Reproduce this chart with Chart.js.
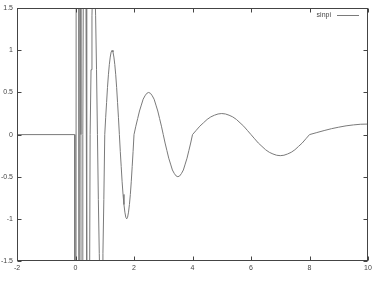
<!DOCTYPE html>
<html>
<head>
<meta charset="utf-8">
<script src="https://cdn.jsdelivr.net/npm/chart.js@4/dist/chart.umd.min.js"></script>
<style>
html,body{margin:0;padding:0;background:#fff;}
#wrap{width:377px;height:282px;}
</style>
</head>
<body>
<div id="wrap"><canvas id="c" width="377" height="282"></canvas></div>
<script>
// ---- data ----
const seriesLabel = 'sinpi';
const xValues = [
  -2, -0.03, -0.02, 0.06, 0.12,
  0.125, 0.1328, 0.15625, 0.1797, 0.1875, 0.1953, 0.21875, 0.2422, 0.25,
  0.265625, 0.28125, 0.3125, 0.34375, 0.359375, 0.375, 0.390625, 0.40625, 0.4375, 0.46875, 0.484375, 0.5,
  0.53125, 0.5625, 0.59375, 0.625, 0.65625, 0.6875, 0.71875, 0.75,
  0.78125, 0.8125, 0.84375, 0.875, 0.90625, 0.9375, 0.96875, 1,
  1.03125, 1.0625, 1.09375, 1.125, 1.15625, 1.1875, 1.21875, 1.25,
  1.28125, 1.3125, 1.34375, 1.375, 1.40625, 1.4375, 1.46875, 1.5,
  1.53125, 1.5625, 1.59375, 1.625, 1.65625, 1.6875, 1.71875, 1.75,
  1.78125, 1.8125, 1.84375, 1.875, 1.90625, 1.9375, 1.96875, 2,
  2.0625, 2.125, 2.1875, 2.25, 2.3125, 2.375, 2.4375, 2.5,
  2.5625, 2.625, 2.6875, 2.75, 2.8125, 2.875, 2.9375, 3,
  3.0625, 3.125, 3.1875, 3.25, 3.3125, 3.375, 3.4375, 3.5,
  3.5625, 3.625, 3.6875, 3.75, 3.8125, 3.875, 3.9375, 4,
  4.125, 4.25, 4.375, 4.5, 4.625, 4.75, 4.875, 5,
  5.125, 5.25, 5.375, 5.5, 5.625, 5.75, 5.875, 6,
  6.125, 6.25, 6.375, 6.5, 6.625, 6.75, 6.875, 7,
  7.125, 7.25, 7.375, 7.5, 7.625, 7.75, 7.875, 8,
  8.25, 8.5, 8.75, 9, 9.25, 9.5, 9.75, 10
];
const yValues = [
  0, 0, -40, 40, -7.7,
  0, 3.06, 8, 3.06, 0, -3.06, -8, -3.06, 0,
  1.53, 2.83, 4, 2.83, 1.53, 0, -1.53, -2.83, -4, -2.83, -1.53, 0,
  0.77, 1.41, 1.85, 2, 1.85, 1.41, 0.77, 0,
  -0.77, -1.41, -1.85, -2, -1.85, -1.41, -0.77, 0,
  0.2, 0.38, 0.56, 0.71, 0.83, 0.92, 0.98, 1,
  0.98, 0.92, 0.83, 0.71, 0.56, 0.38, 0.2, 0,
  -0.2, -0.38, -0.56, -0.71, -0.83, -0.92, -0.98, -1,
  -0.98, -0.92, -0.83, -0.71, -0.56, -0.38, -0.2, 0,
  0.1, 0.19, 0.28, 0.35, 0.42, 0.46, 0.49, 0.5,
  0.49, 0.46, 0.42, 0.35, 0.28, 0.19, 0.1, 0,
  -0.1, -0.19, -0.28, -0.35, -0.42, -0.46, -0.49, -0.5,
  -0.49, -0.46, -0.42, -0.35, -0.28, -0.19, -0.1, 0,
  0.05, 0.1, 0.14, 0.18, 0.21, 0.23, 0.245, 0.25,
  0.245, 0.23, 0.21, 0.18, 0.14, 0.1, 0.05, 0,
  -0.05, -0.1, -0.14, -0.18, -0.21, -0.23, -0.245, -0.25,
  -0.245, -0.23, -0.21, -0.18, -0.14, -0.1, -0.05, 0,
  0.024, 0.048, 0.07, 0.088, 0.104, 0.115, 0.123, 0.125
];
const xTickLabels = ['-2', '0', '2', '4', '6', '8', '10'];
const yTickLabels = ['-1.5', '-1', '-0.5', '0', '0.5', '1', '1.5'];

const points = xValues.map((x, i) => ({ x: x, y: yValues[i] }));

const FONT = { family: 'Liberation Sans, Arial, sans-serif', size: 7 };
const TEXT_COLOR = '#444';
const FRAME_COLOR = '#444';

const framePlugin = {
  id: 'gnuFrame',
  afterDraw(chart) {
    const ctx = chart.ctx;
    const a = chart.chartArea;
    const xs = chart.scales.x, ys = chart.scales.y;
    const L = Math.round(a.left) + 0.5, R = Math.round(a.right) - 0.5;
    const T = Math.round(a.top) + 0.5, B = Math.round(a.bottom) - 0.5;
    ctx.save();
    ctx.strokeStyle = FRAME_COLOR;
    ctx.lineWidth = 1;
    ctx.strokeRect(L, T, R - L, B - T);
    const tl = 4;
    ctx.beginPath();
    xs.ticks.forEach(t => {
      const px = Math.round(xs.getPixelForValue(t.value)) + 0.5;
      ctx.moveTo(px, B); ctx.lineTo(px, B - tl);
      ctx.moveTo(px, T); ctx.lineTo(px, T + tl);
    });
    ys.ticks.forEach(t => {
      const py = Math.round(ys.getPixelForValue(t.value)) + 0.5;
      ctx.moveTo(L, py); ctx.lineTo(L + tl, py);
      ctx.moveTo(R, py); ctx.lineTo(R - tl, py);
    });
    ctx.stroke();
    // key (legend) in gnuplot style: text then line sample
    const ds = chart.data.datasets[0];
    ctx.font = FONT.size + 'px ' + FONT.family;
    ctx.fillStyle = TEXT_COLOR;
    ctx.textAlign = 'right';
    ctx.textBaseline = 'middle';
    const ky = 15.5;
    ctx.fillText(ds.label, 331, ky);
    ctx.strokeStyle = ds.borderColor;
    ctx.beginPath();
    ctx.moveTo(337, ky); ctx.lineTo(359, ky);
    ctx.stroke();
    ctx.restore();
  }
};

new Chart(document.getElementById('c'), {
  type: 'scatter',
  data: {
    datasets: [{
      label: seriesLabel,
      data: points,
      showLine: true,
      borderColor: '#7a7a7a',
      borderWidth: 1,
      pointRadius: 0,
      tension: 0,
      fill: false
    }]
  },
  options: {
    responsive: false,
    animation: false,
    layout: { padding: { top: 8, right: 9, left: 0, bottom: 0 } },
    plugins: { legend: { display: false }, tooltip: { enabled: false } },
    scales: {
      x: {
        type: 'linear', min: -2, max: 10,
        grid: { display: false, drawTicks: false, tickLength: 0 }, border: { display: false },
        ticks: {
          stepSize: 2, font: FONT, color: TEXT_COLOR, padding: 3, maxRotation: 0,
          callback: (v, i) => xTickLabels[i]
        },
        afterFit: s => { s.height = 21; }
      },
      y: {
        type: 'linear', min: -1.5, max: 1.5,
        grid: { display: false, drawTicks: false, tickLength: 0 }, border: { display: false },
        ticks: {
          stepSize: 0.5, font: FONT, color: TEXT_COLOR, padding: 4,
          callback: (v, i) => yTickLabels[i]
        },
        afterFit: s => { s.width = 17; }
      }
    }
  },
  plugins: [framePlugin]
});
</script>
</body>
</html>
